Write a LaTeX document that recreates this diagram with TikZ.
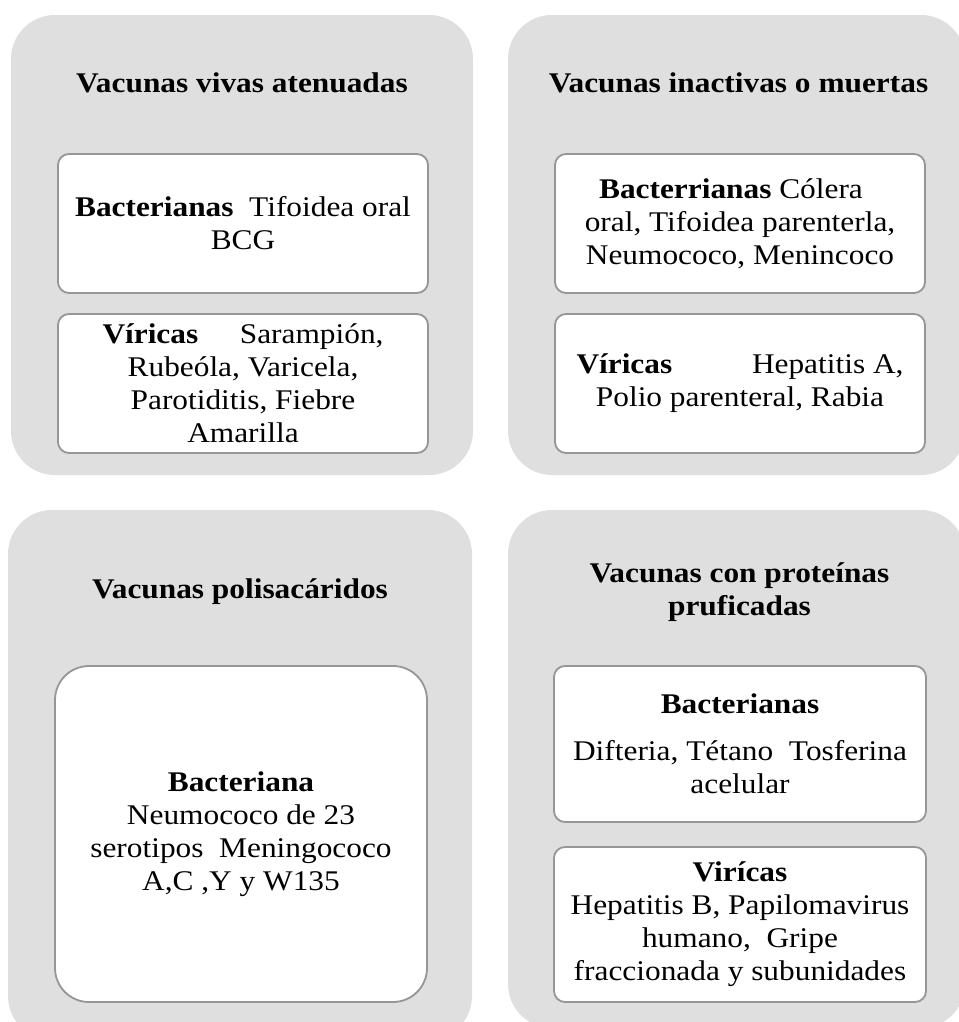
\documentclass[tikz,border=0pt]{standalone}
\usepackage{fontspec}
\setmainfont{Liberation Serif}[FakeStretch=1.1]
\definecolor{panelgray}{RGB}{223,223,223}
\definecolor{boxgray}{RGB}{150,150,150}
\tikzset{
  panel/.style={fill=panelgray, draw=none, rounded corners=44pt, inner sep=0pt},
  inbox/.style={draw=boxgray, line width=1.8pt, fill=white, rounded corners=11pt,
    inner sep=0pt, align=center, font=\fontsize{28.5}{33}\selectfont},
  ttl/.style={inner sep=0pt, align=center, font=\fontsize{28.5}{33}\selectfont\bfseries}
}
\begin{document}
\begin{tikzpicture}[x=1pt,y=-1pt]
\useasboundingbox (0,0) rectangle (958,1022);
% panels
\node[panel, minimum width=462pt, minimum height=460pt] (p1) at (242,245) {};
\node[panel, minimum width=457pt, minimum height=460pt] (p2) at (736.5,245) {};
\node[panel, minimum width=464pt, minimum height=530pt] (p3) at (240,775) {};
\node[panel, minimum width=457pt, minimum height=518pt] (p4) at (736.5,769) {};
% titles
\node[ttl, anchor=base] (t1) at (242,93) {Vacunas vivas atenuadas};
\node[ttl, anchor=base] (t2) at (738.5,93) {Vacunas inactivas o muertas};
\node[ttl, anchor=base] (t3) at (240,598) {Vacunas polisacáridos};
\node[ttl] (t4) at (739.5,592) {Vacunas con proteínas\\pruficadas};
% inner boxes
\node[inbox, minimum width=370pt, minimum height=139pt] (b1) at (243,223.5)
  {\textbf{Bacterianas}\ \ Tifoidea oral\\BCG};
\node[inbox, minimum width=370pt, minimum height=139pt] (b2) at (243,383.5)
  {\makebox[281pt]{\textbf{Víricas}\hfill Sarampión,}\\Rubeóla, Varicela,\\Parotiditis, Fiebre\\Amarilla};
\node[inbox, minimum width=370pt, minimum height=139pt] (b3) at (740,223.5)
  {\textbf{Bacterrianas} Cólera\hspace*{18pt}\\oral, Tifoidea parenterla,\\Neumococo, Menincoco};
\node[inbox, minimum width=370pt, minimum height=139pt] (b4) at (740,383.5)
  {\makebox[327pt]{\textbf{Víricas}\hfill Hepatitis A,}\\Polio parenteral, Rabia};
\node[inbox, rounded corners=34pt, minimum width=372pt, minimum height=336pt] (b5) at (241,834)
  {\textbf{Bacteriana}\\Neumococo de 23\\serotipos\ \ Meningococo\\A,C ,Y y W135};
\node[inbox, minimum width=372pt, minimum height=156pt] (b6) at (740,744)
  {\textbf{Bacterianas}\\[14pt]Difteria, Tétano\ \ Tosferina\\acelular};
\node[inbox, minimum width=372pt, minimum height=155pt] (b7) at (740,924.5)
  {\textbf{Virícas}\\Hepatitis B, Papilomavirus\\humano,\ \ Gripe\\fraccionada y subunidades};
\end{tikzpicture}
\end{document}
